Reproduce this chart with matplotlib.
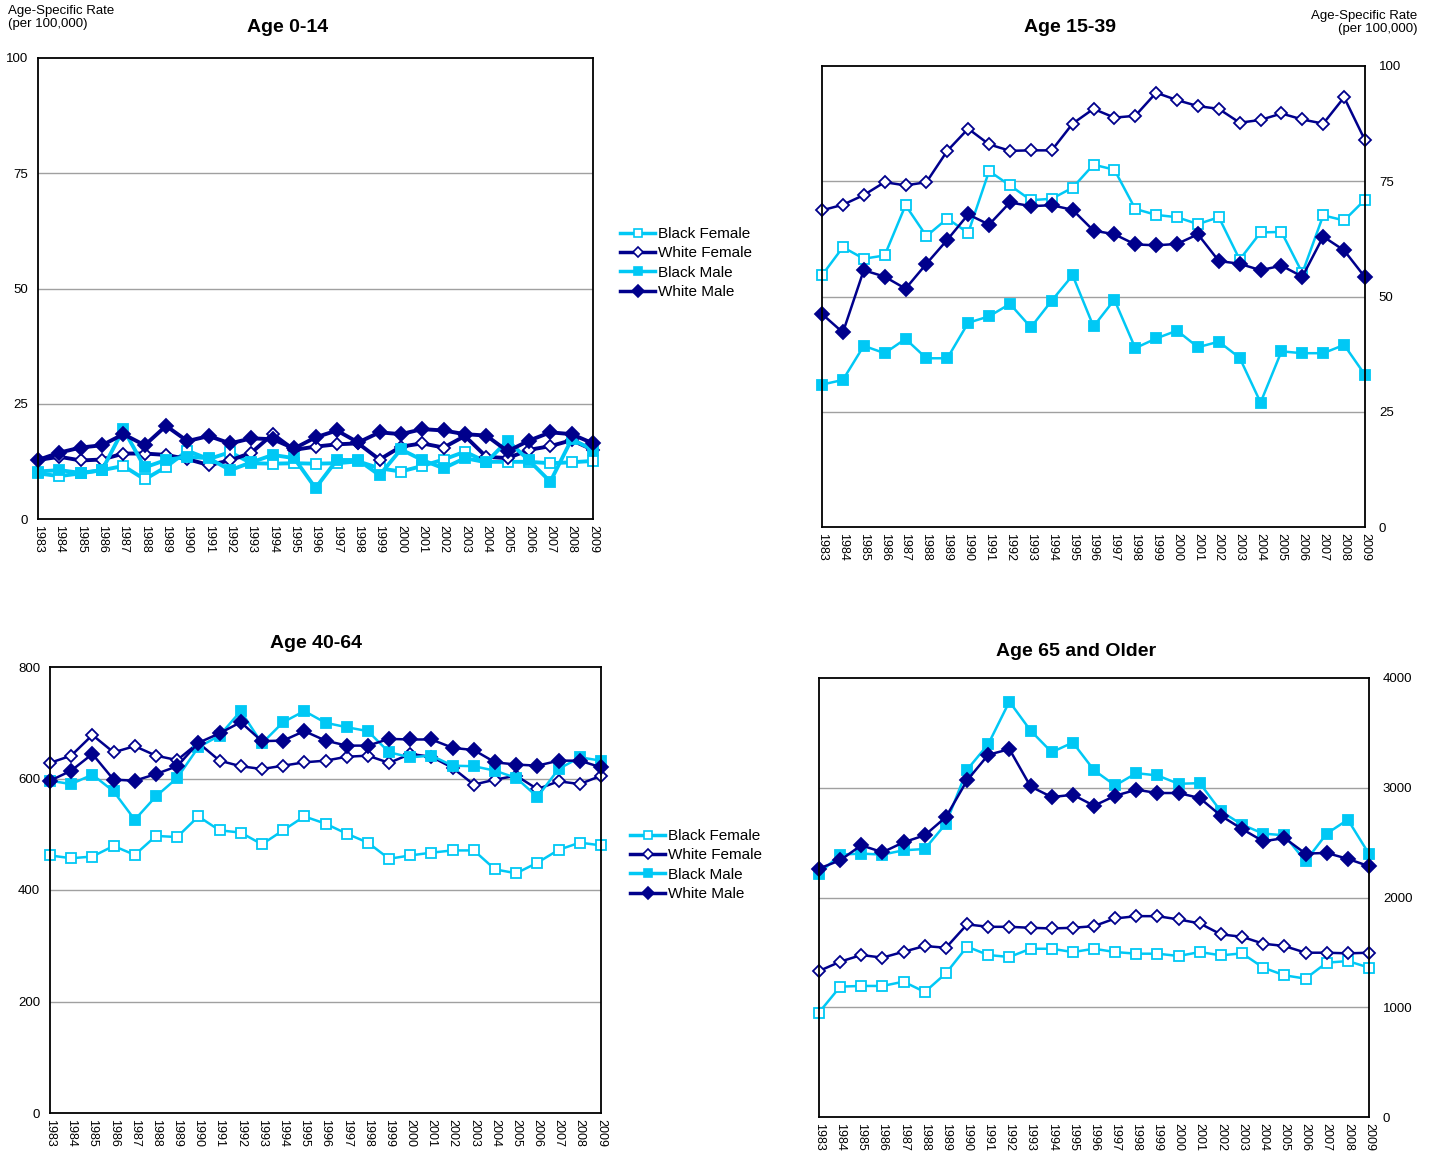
import matplotlib
matplotlib.use("Agg")
import matplotlib.pyplot as plt
from matplotlib.lines import Line2D

plt.rcParams['font.family'] = ['Liberation Sans', 'DejaVu Sans']

years = list(range(1983, 2010))
series_names = ["Black Female", "White Female", "Black Male", "White Male"]

# Age 0-14
bf_0_14 = [9.9, 9.3, 9.9, 10.6, 11.5, 8.6, 11.3, 14.8, 13.0, 14.5, 12.1, 12.0, 12.1, 12.0,
           12.1, 12.5, 11.0, 10.3, 11.5, 12.9, 14.6, 12.4, 12.4, 12.4, 12.1, 12.3, 12.6]
wf_0_14 = [12.8, 13.5, 12.7, 12.9, 14.2, 14.2, 13.9, 13.0, 11.7, 12.7, 14.4, 18.4, 15.0, 15.7,
           16.2, 16.4, 12.9, 15.7, 16.4, 15.5, 18.0, 13.5, 13.2, 15.0, 15.8, 17.1, 15.0]
bm_0_14 = [10.3, 10.6, 10.0, 10.6, 19.5, 11.2, 12.8, 13.5, 13.2, 10.6, 12.3, 13.9, 13.2, 6.7,
           12.8, 12.8, 9.5, 15.1, 12.8, 11.0, 13.2, 12.3, 17.0, 12.7, 8.1, 17.3, 15.0]
wm_0_14 = [12.8, 14.4, 15.5, 16.0, 18.4, 16.0, 20.2, 16.9, 18.0, 16.4, 17.5, 17.3, 15.3, 17.7,
           19.2, 16.6, 18.8, 18.4, 19.5, 19.2, 18.4, 18.1, 14.7, 17.0, 18.8, 18.4, 16.4]

# Age 15-39
bf_15_39 = [54.6, 60.7, 58.2, 58.9, 69.8, 63.1, 66.9, 63.8, 77.2, 74.1, 70.9, 71.2, 73.6, 78.6,
            77.5, 69.0, 67.7, 67.2, 65.7, 67.2, 58.0, 63.9, 64.0, 55.1, 67.6, 66.5, 71.0]
wf_15_39 = [68.7, 69.9, 72.0, 74.8, 74.1, 74.8, 81.6, 86.4, 83.0, 81.6, 81.7, 81.7, 87.5, 90.7,
            88.8, 89.2, 94.2, 92.6, 91.3, 90.7, 87.7, 88.3, 89.7, 88.4, 87.5, 93.2, 83.9]
bm_15_39 = [30.9, 31.9, 39.3, 37.7, 40.8, 36.6, 36.6, 44.3, 45.7, 48.4, 43.3, 49.1, 54.6, 43.5,
            49.3, 38.8, 40.9, 42.6, 39.0, 40.2, 36.7, 27.0, 38.1, 37.7, 37.7, 39.5, 33.0]
wm_15_39 = [46.2, 42.2, 55.7, 54.3, 51.7, 57.1, 62.3, 67.8, 65.6, 70.4, 69.6, 69.8, 68.8, 64.3,
            63.5, 61.3, 61.1, 61.4, 63.5, 57.7, 57.1, 55.7, 56.7, 54.3, 63.0, 60.0, 54.2]

# Age 40-64
bf_40_64 = [462, 457, 460, 479, 463, 497, 495, 532, 507, 503, 482, 507, 532, 519,
            501, 485, 456, 462, 467, 471, 471, 437, 430, 449, 472, 485, 480]
wf_40_64 = [628, 641, 678, 647, 658, 641, 633, 664, 632, 622, 617, 623, 629, 632,
            639, 641, 628, 644, 639, 619, 589, 598, 605, 581, 595, 590, 605]
bm_40_64 = [596, 590, 607, 577, 526, 568, 601, 656, 677, 721, 663, 701, 721, 700,
            692, 685, 647, 638, 641, 623, 622, 614, 601, 567, 617, 638, 632]
wm_40_64 = [596, 614, 644, 598, 596, 608, 622, 664, 681, 701, 667, 668, 685, 668,
            659, 659, 671, 670, 670, 655, 651, 629, 625, 623, 632, 632, 620]

# Age 65 and Older
bf_65 = [952, 1188, 1194, 1194, 1233, 1139, 1309, 1552, 1476, 1458, 1533, 1533, 1503, 1533,
         1503, 1488, 1488, 1467, 1503, 1473, 1491, 1361, 1291, 1261, 1406, 1421, 1361]
wf_65 = [1330, 1415, 1476, 1452, 1506, 1558, 1542, 1755, 1733, 1733, 1724, 1718, 1724, 1739,
         1809, 1830, 1830, 1800, 1764, 1664, 1642, 1579, 1558, 1497, 1497, 1491, 1497]
bm_65 = [2218, 2391, 2400, 2391, 2430, 2442, 2673, 3164, 3397, 3785, 3521, 3324, 3412, 3160,
         3021, 3133, 3112, 3036, 3042, 2785, 2664, 2582, 2567, 2330, 2582, 2709, 2397]
wm_65 = [2264, 2339, 2476, 2412, 2503, 2567, 2733, 3067, 3300, 3352, 3012, 2915, 2936, 2836,
         2927, 2982, 2952, 2952, 2906, 2745, 2624, 2512, 2542, 2400, 2406, 2352, 2285]

CYAN = '#00C8F5'
NAVY = '#00008C'
STYLES = [
    dict(color=CYAN, marker='s', mfc='white', mec=CYAN, ms=6.5),
    dict(color=NAVY, marker='D', mfc='white', mec=NAVY, ms=6),
    dict(color=CYAN, marker='s', mfc=CYAN, mec=CYAN, ms=7),
    dict(color=NAVY, marker='D', mfc=NAVY, mec=NAVY, ms=7.5),
]

W, H = 1436, 1153


def make_axes(fig, left, top, right, bottom):
    return fig.add_axes([left / W, 1 - bottom / H, (right - left) / W, (bottom - top) / H])


def draw_panel(ax, data, ymax, ystep, lw, right_axis):
    for vals, st in zip(data, STYLES):
        ax.plot(years, vals, lw=lw, mew=1.3, zorder=3, clip_on=False, **st)
    ax.set_xlim(years[0], years[-1])
    ax.set_ylim(0, ymax)
    ax.set_yticks(range(0, ymax + 1, ystep))
    ax.set_xticks(years)
    ax.set_xticklabels([str(y) for y in years], rotation=270, fontsize=9)
    ax.tick_params(axis='x', length=0, pad=4)
    ax.tick_params(axis='y', length=0, labelsize=9.5, pad=7 if not right_axis else 10)
    for y in range(ystep, ymax, ystep):
        ax.axhline(y, color='#a0a0a0', lw=1, zorder=1)
    for sp in ax.spines.values():
        sp.set_linewidth(1.3)
        sp.set_color('black')
        sp.set_zorder(4)
    if right_axis:
        ax.yaxis.tick_right()


def add_legend(fig, x, y):
    handles = [Line2D([], [], lw=2.5, mew=1.2, **dict(st, ms=st['ms'] - 1)) for st in STYLES]
    fig.legend(handles, series_names, loc='upper left', bbox_to_anchor=(x / W, 1 - y / H),
               frameon=False, fontsize=11, handlelength=2.3, handletextpad=0.15,
               labelspacing=0.35, borderaxespad=0)


fig = plt.figure(figsize=(W / 100, H / 100), dpi=100)

ax1 = make_axes(fig, 38, 58, 593, 519)
draw_panel(ax1, [bf_0_14, wf_0_14, bm_0_14, wm_0_14], 100, 25, 2.8, False)
ax2 = make_axes(fig, 822, 66, 1365, 527)
draw_panel(ax2, [bf_15_39, wf_15_39, bm_15_39, wm_15_39], 100, 25, 1.8, True)
ax3 = make_axes(fig, 50, 667, 601, 1113)
draw_panel(ax3, [bf_40_64, wf_40_64, bm_40_64, wm_40_64], 800, 200, 1.8, False)
ax4 = make_axes(fig, 819, 678, 1369, 1117)
draw_panel(ax4, [bf_65, wf_65, bm_65, wm_65], 4000, 1000, 1.8, True)

add_legend(fig, 614, 221)
add_legend(fig, 624, 823)

fig.text(288 / W, 1 - 27 / H, "Age 0-14", ha='center', va='center', fontsize=14, fontweight='bold')
fig.text(1070 / W, 1 - 27 / H, "Age 15-39", ha='center', va='center', fontsize=14, fontweight='bold')
fig.text(316 / W, 1 - 643 / H, "Age 40-64", ha='center', va='center', fontsize=14, fontweight='bold')
fig.text(1076 / W, 1 - 651 / H, "Age 65 and Older", ha='center', va='center', fontsize=14,
         fontweight='bold')

fig.text(8 / W, 1 - 5 / H, "Age-Specific Rate\n(per 100,000)", ha='left', va='top', fontsize=9.5,
         linespacing=1.15)
fig.text(1417 / W, 1 - 10 / H, "Age-Specific Rate\n(per 100,000)", ha='right', va='top',
         fontsize=9.5, linespacing=1.15, multialignment='right')

fig.savefig("out.png", dpi=100)
